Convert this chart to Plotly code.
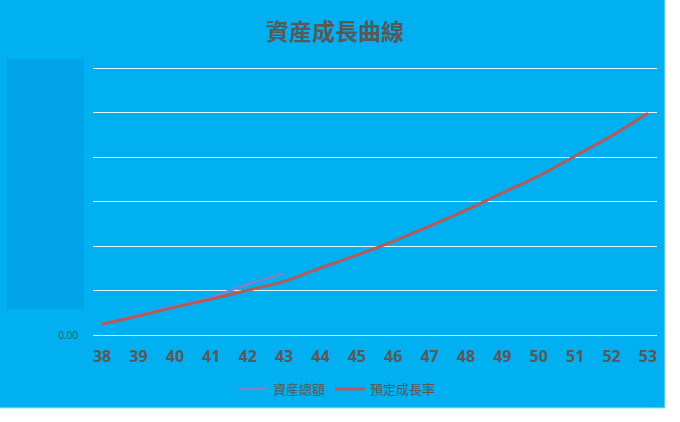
import plotly.graph_objects as go

# ages on the category axis
ages = list(range(38, 54))
ageLabels = [str(a) for a in ages]

# 資産總額 (only up to age 43)
assetAges = [38, 39, 40, 41, 42, 43]
assetTotal = [0.25, 0.45, 0.65, 0.85, 1.15, 1.39]

# 預定成長率
plannedGrowth = [0.25, 0.43, 0.63, 0.81, 1.01, 1.21, 1.51, 1.80,
                 2.11, 2.45, 2.81, 3.20, 3.58, 4.03, 4.48, 4.99]

yTicks = [0, 1, 2, 3, 4, 5, 6]
yTickText = ["0.00", "", "", "", "", "", ""]

bgBlue = "#00B0F0"
boxBlue = "#00A2E8"
textGray = "#595959"

fig = go.Figure()

fig.add_trace(go.Scatter(x=assetAges, y=assetTotal, name="資産總額",
                         mode="lines", line=dict(color="#7E82C8", width=2.5, shape="spline", smoothing=0.6)))
fig.add_trace(go.Scatter(x=ages, y=plannedGrowth, name="預定成長率",
                         mode="lines", line=dict(color="#B5595A", width=3, shape="spline", smoothing=0.6)))

# plot area is 93..657 px wide, ~64..336 px tall
W, H = 680, 422
L, R, T, B = 93, 23, 64, 86
pw, ph = W - L - R, H - T - B

def px(xp):  # pixel -> paper x
    return (xp - L) / pw

def py(yp):  # pixel -> paper y
    return (H - B - yp) / ph

# blue chart background with white margin right/bottom
fig.add_shape(type="rect", xref="paper", yref="paper", layer="below",
              x0=px(-2), x1=px(665), y0=py(408), y1=py(-2),
              fillcolor=bgBlue, line=dict(color="#9BE3F8", width=1))
# the darker box hiding the value labels
fig.add_shape(type="rect", xref="paper", yref="paper", layer="above",
              x0=px(7), x1=px(84), y0=py(309), y1=py(59),
              fillcolor=boxBlue, line=dict(width=0))

fig.update_layout(
    width=W, height=H,
    margin=dict(l=L, r=R, t=T, b=B),
    paper_bgcolor="white",
    plot_bgcolor="rgba(0,0,0,0)",
    title=dict(text="<b>資産成長曲線</b>", x=335 / W, xanchor="center",
               y=1 - 32 / H, yanchor="middle",
               font=dict(family="Noto Sans CJK TC", size=23, color=textGray)),
    showlegend=True,
    legend=dict(orientation="h", x=px(337), xanchor="center", y=py(389), yanchor="middle",
                font=dict(family="Noto Sans CJK TC", size=13, color=textGray),
                bgcolor="rgba(0,0,0,0)"),
)

fig.update_xaxes(range=[37.75, 53.25], tickvals=ages, ticktext=ageLabels,
                 showgrid=False, zeroline=False, showline=False,
                 ticks="", ticklabelstandoff=9,
                 tickfont=dict(family="Open Sans", size=16, color=textGray, weight="bold"))
fig.update_yaxes(range=[-0.02, 6.1], tickvals=yTicks, ticktext=yTickText,
                 showgrid=True, gridcolor="#DDF6FF", gridwidth=1,
                 zeroline=True, zerolinecolor="#DDF6FF", zerolinewidth=1,
                 showline=False, ticks="", ticklabelstandoff=14,
                 tickfont=dict(family="Open Sans", size=10, color="#3D5566"))

# page body has a default 8px margin; drop it so the chart sits at the corner
fig.write_html("out.html", config={"displayModeBar": False},
               post_script="document.body.style.margin='0';")
